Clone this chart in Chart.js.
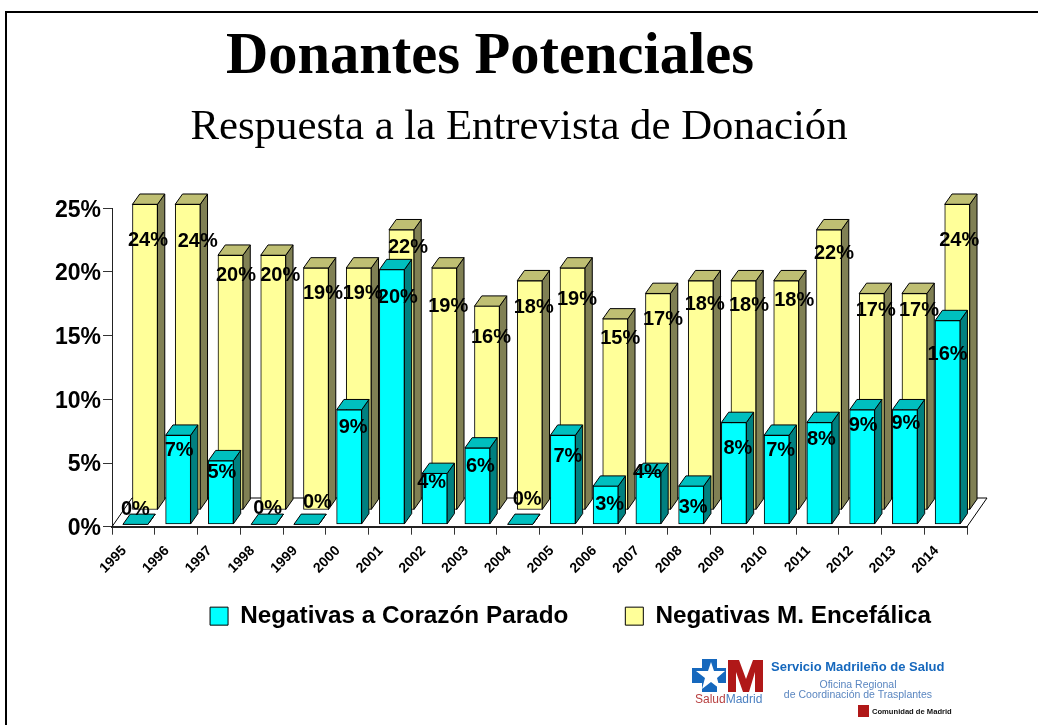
<!DOCTYPE html>
<html><head><meta charset="utf-8">
<style>
html,body{margin:0;padding:0;background:#fff;overflow:hidden}
#wrap{position:relative;width:1038px;height:725px;overflow:hidden}
#chart{position:absolute;left:0;top:0}
#frame{position:absolute;left:5px;top:11px;width:1040px;height:730px;border-left:2px solid #000;border-top:2px solid #000}
#logo{position:absolute;left:0;top:0}
</style></head><body>
<div id="wrap">
<canvas id="chart" width="1038" height="725"></canvas>
<div id="frame"></div>
<svg id="logo" width="1038" height="725" xmlns="http://www.w3.org/2000/svg">
  <polygon fill="#1668bd" points="702,659 717,659 717,668 726,668 726,683 717,683 717,692 702,692 702,683 692,683 692,668 702,668"/>
  <polygon fill="#fff" points="711,662 714,671 725,671 717,678 720,689 711,682 702,689 705,678 696,671 708,671"/>
  <polygon fill="#b01818" points="728,692 728,660 739,660 746,679 753,660 763,660 763,692 755,692 755,672 749,692 743,692 736,672 736,692"/>
  <text x="695" y="703" font-family="Liberation Sans" font-size="12"><tspan fill="#b84040">Salud</tspan><tspan fill="#4a7fc0">Madrid</tspan></text>
  <text x="771" y="671" font-family="Liberation Sans" font-size="13" font-weight="bold" fill="#1668bd">Servicio Madrileño de Salud</text>
  <text x="858" y="688" font-family="Liberation Sans" font-size="10.5" fill="#5a86c0" text-anchor="middle">Oficina Regional</text>
  <text x="858" y="698" font-family="Liberation Sans" font-size="10.5" fill="#5a86c0" text-anchor="middle">de Coordinación de Trasplantes</text>
  <rect x="858" y="705" width="11" height="12" fill="#b01818"/>
  <text x="872" y="714" font-family="Liberation Sans" font-size="7.6" font-weight="bold" fill="#111">Comunidad de Madrid</text>
</svg>
</div>
<script src="https://cdn.jsdelivr.net/npm/chart.js@4/dist/chart.umd.min.js"></script>
<script>
const years = ['1995','1996','1997','1998','1999','2000','2001','2002','2003','2004','2005','2006','2007','2008','2009','2010','2011','2012','2013','2014'];
const negativasCorazon = [0,7,5,0,0,9,20,4,6,0,7,3,4,3,8,7,8,9,9,16];
const negativasEncefalica = [24,24,20,20,19,19,22,19,16,18,19,15,17,18,18,18,22,17,17,24];
const yTicks = [0,5,10,15,20,25];

// label nudges relative to each bar's front face (centre x, top y)
const cyanLabelDx = [0,1,1,4,11,4,6,-3,3,7,5,4,-1,2,4,4,2,1,1,0];
const cyanLabelDy = [-16,14,10,-17,-23,16,26,8,17,-26,20,17,-2,20,24,14,15,14,12,32];
const yellowLabelDx = [3,10,5.5,7,7,4,6.5,4,4,4,4.5,5,5,4,5.5,8,5,4,4.5,2];
const yellowLabelDy = [35,36,19,19,24,24,16,37,30,25,30,18,25,22,23,18,22,16,16,35];

const SANS = "'Liberation Sans', Arial, sans-serif";
const SERIF = "'Liberation Serif', 'Times New Roman', serif";
const DEPTH_X = 7.3, DEPTH_Y = -10.3;
const shifts = [{dx:2,dy:-2.3},{dx:11.6,dy:-16.7}];
const faces = [{top:'#00BFBF',side:'#008080'},{top:'#BFBF73',side:'#808054'}];

const bars3d = {
  id:'bars3d',
  afterLayout(chart){
    chart.titleBlock.left += 6.5; chart.titleBlock.right += 6.5;
    const sub = chart.boxes.find(b=>b.options && b.options.text==='Respuesta a la Entrevista de Donación');
    if(sub){ sub.left += 35.5; sub.right += 35.5; }
    const l = chart.legend; const h = l.bottom - l.top;
    l.left += 87; l.right += 87;
    l.top = 547; l.bottom = l.top + h;
  },
  beforeDatasetsDraw(chart){
    const c = chart.ctx, a = chart.chartArea;
    c.save();
    c.strokeStyle='#000'; c.lineWidth=1;
    c.beginPath();
    c.moveTo(a.left,a.bottom); c.lineTo(a.left+20,a.bottom-28.7);
    c.lineTo(a.right+20,a.bottom-28.7); c.lineTo(a.right,a.bottom);
    c.stroke(); c.restore();
  },
  beforeDatasetDraw(chart,args){
    const c = chart.ctx, s = shifts[args.index], f = faces[args.index];
    c.save(); c.translate(s.dx,s.dy);
    c.strokeStyle='#000'; c.lineWidth=1;
    chart.getDatasetMeta(args.index).data.forEach(el=>{
      const x0=el.x-el.width/2, x1=el.x+el.width/2, t=el.y, b=el.base;
      c.fillStyle=f.side;
      c.beginPath(); c.moveTo(x1,t); c.lineTo(x1+DEPTH_X,t+DEPTH_Y); c.lineTo(x1+DEPTH_X,b+DEPTH_Y); c.lineTo(x1,b); c.closePath(); c.fill(); c.stroke();
      c.fillStyle=f.top;
      c.beginPath(); c.moveTo(x0,t); c.lineTo(x0+DEPTH_X,t+DEPTH_Y); c.lineTo(x1+DEPTH_X,t+DEPTH_Y); c.lineTo(x1,t); c.closePath(); c.fill(); c.stroke();
    });
  },
  afterDatasetDraw(chart){ chart.ctx.restore(); },
  afterDatasetsDraw(chart){
    const c = chart.ctx;
    c.save();
    c.font = "bold 20px "+SANS; c.fillStyle='#000'; c.textAlign='center'; c.textBaseline='middle';
    [[1,yellowLabelDx,yellowLabelDy,negativasEncefalica],[0,cyanLabelDx,cyanLabelDy,negativasCorazon]].forEach(([i,dxs,dys,vals])=>{
      chart.getDatasetMeta(i).data.forEach((el,k)=>{
        c.fillText(vals[k]+'%', el.x+shifts[i].dx+dxs[k], el.y+shifts[i].dy+dys[k]+1.5);
      });
    });
    c.restore();
  }
};

new Chart(document.getElementById('chart'),{
  type:'bar',
  data:{labels:years,datasets:[
    {label:'Negativas a Corazón Parado',data:negativasCorazon,backgroundColor:'#00FFFF',borderColor:'#000',borderWidth:1,borderSkipped:false,clip:false,barThickness:25,grouped:false},
    {label:'Negativas M. Encefálica',data:negativasEncefalica,backgroundColor:'#FFFF99',borderColor:'#000',borderWidth:1,borderSkipped:false,clip:false,barThickness:25,grouped:false}
  ]},
  options:{
    responsive:false,animation:false,
    layout:{padding:{left:0,right:71,top:0,bottom:47}},
    plugins:{
      tooltip:{enabled:false},
      title:{display:true,text:'Donantes Potenciales',color:'#000',font:{family:SERIF,size:58.5,weight:'bold',lineHeight:1.2},padding:{top:22.3,bottom:0}},
      subtitle:{display:true,text:'Respuesta a la Entrevista de Donación',color:'#000',font:{family:SERIF,size:42.8,weight:'normal',lineHeight:1.2},padding:{top:9.8,bottom:54.6}},
      legend:{position:'bottom',labels:{boxWidth:18,boxHeight:18,padding:57,color:'#000',font:{family:SANS,size:24.3,weight:'bold'}}}
    },
    scales:{
      x:{type:'category',offset:true,
        afterFit(s){s.height=60;},
        border:{color:'#222',width:2},
        grid:{display:true,drawOnChartArea:false,drawTicks:true,tickLength:8,color:'#333',offset:true},
        ticks:{color:'#000',font:{family:SANS,size:14,weight:'bold'},minRotation:45,maxRotation:45,padding:8,labelOffset:-9,autoSkip:false}
      },
      y:{min:0,max:25,
        afterFit(s){s.width=112;},
        afterBuildTicks(s){s.ticks=yTicks.map(v=>({value:v}));},
        border:{color:'#222',width:1},
        grid:{display:true,drawOnChartArea:false,tickLength:9,color:'#333'},
        ticks:{color:'#000',font:{family:SANS,size:23,weight:'bold'},padding:2,labelOffset:2,callback:v=>v+'%'}
      }
    }
  },
  plugins:[bars3d]
});
</script>
</body></html>
